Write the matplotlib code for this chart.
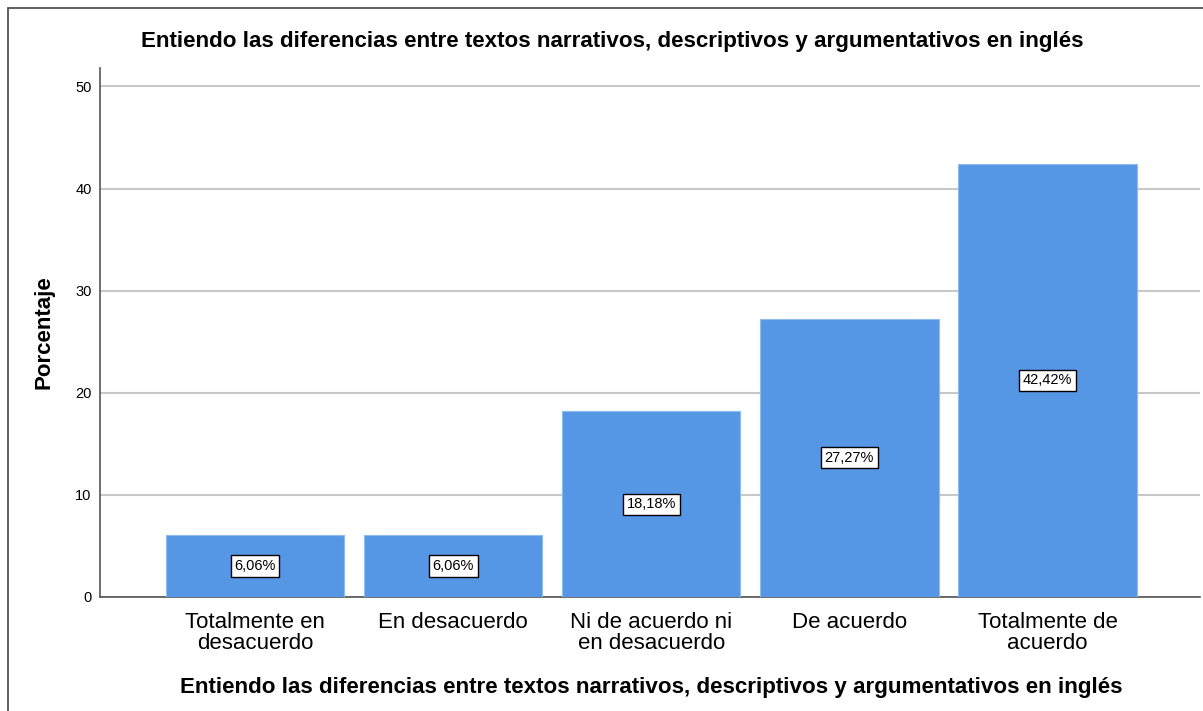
import matplotlib.pyplot as plt
from matplotlib.patches import Rectangle

# Datos
categorias = ["Totalmente en\ndesacuerdo", "En desacuerdo", "Ni de acuerdo ni\nen desacuerdo",
              "De acuerdo", "Totalmente de\nacuerdo"]
porcentajes = [6.06, 6.06, 18.18, 27.27, 42.42]
etiquetas = ["6,06%", "6,06%", "18,18%", "27,27%", "42,42%"]
yticks = [0, 10, 20, 30, 40, 50]
titulo = "Entiendo las diferencias entre textos narrativos, descriptivos y argumentativos en inglés"

plt.rcParams['font.family'] = ['Liberation Sans', 'DejaVu Sans']

fig = plt.figure(figsize=(12.03, 7.11), dpi=100)
ax = fig.add_axes([100 / 1203, 1 - 597 / 711, 1100 / 1203, 529 / 711])

x = list(range(len(categorias)))
ax.bar(x, porcentajes, width=0.9, color='#5596e5', edgecolor='#8cbcf0', linewidth=0.8, zorder=3)

for xi, v, t in zip(x, porcentajes, etiquetas):
    ax.text(xi, v / 2, t, ha='center', va='center', fontsize=10.5, zorder=4,
            bbox=dict(boxstyle='square,pad=0.25', facecolor='white', edgecolor='black', linewidth=1))

ax.set_xlim(-0.783, 4.77)
ax.set_ylim(0, 51.8)
ax.set_yticks(yticks)
ax.set_xticks(x)
ax.set_xticklabels(categorias, fontsize=16, linespacing=0.97)
ax.tick_params(axis='x', length=0, pad=11)
ax.tick_params(axis='y', length=0, labelsize=10.5, pad=6)
ax.yaxis.grid(True, color='#c8c8c8', linewidth=1.5, zorder=0)

for s in ['top', 'right']:
    ax.spines[s].set_visible(False)
for s in ['left', 'bottom']:
    ax.spines[s].set_color('#555555')
    ax.spines[s].set_linewidth(1.2)

ax.set_ylabel("Porcentaje", fontsize=16, fontweight='bold', labelpad=15)
fig.text(612 / 1203, 1 - 42 / 711, titulo, ha='center', va='center', fontsize=16.1, fontweight='bold')
fig.text(651 / 1203, 1 - 688 / 711, titulo, ha='center', va='center', fontsize=16.1, fontweight='bold')

# Marco exterior
fig.patches.append(Rectangle((8 / 1203, -0.1), 1.2, 1 - 8 / 711 + 0.1, transform=fig.transFigure,
                             fill=False, edgecolor='#444444', linewidth=1.2))

plt.savefig("out.png", dpi=100)
